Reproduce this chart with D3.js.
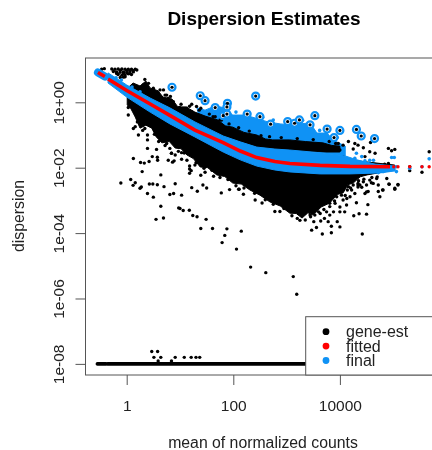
<!DOCTYPE html>
<html lang="en">
<head>
<meta charset="UTF-8">
<title>Dispersion Estimates</title>
<script src="https://d3js.org/d3.v7.min.js"></script>
<style>
    html, body { margin: 0; background: #fff; overflow: hidden; }
    svg { display: block; font-family: "Liberation Sans", Arial, sans-serif; }
    text { fill: #222; }
    .axis path { display: none; }
    .axis line { stroke: #555; }
    .axis text { font-size: 15.5px; fill: #222; }
</style>
</head>
<body>
<div id="chart"></div>
<script>
// all values are [log10 mean, log10 dispersion]
const xTicks = [1, 100, 10000];
const xTickLabels = ["1", "100", "10000"];
const yTicks = [1, 1e-2, 1e-4, 1e-6, 1e-8];
const yTickLabels = ["1e+00", "1e-02", "1e-04", "1e-06", "1e-08"];
const legendLabels = ["gene-est", "fitted", "final"];
const legendColors = ["#000", "#ff0000", "#0f92f5"];

// dense gene-est cloud under the fitted line
const cloudOutline = [[0.01,0.31],[0.01,-0.08],[0.08,-0.2],[0.16,-0.45],[0.25,-0.79],[0.36,-0.7],[0.47,-0.79],[0.55,-1.05],[0.66,-1.24],[0.8,-1.2],[0.91,-1.4],[1.02,-1.42],[1.13,-1.61],[1.25,-1.72],[1.38,-1.98],[1.52,-2.0],[1.69,-2.22],[1.84,-2.27],[1.99,-2.47],[2.15,-2.5],[2.31,-2.68],[2.5,-2.84],[2.69,-3.05],[2.88,-3.17],[3.06,-3.39],[3.18,-3.4],[3.29,-3.54],[3.4,-3.38],[3.5,-3.45],[3.65,-3.2],[3.81,-3.08],[3.95,-2.82],[4.06,-2.77],[4.15,-2.52],[4.25,-2.47],[4.38,-2.28],[4.51,-2.22],[5.03,-2.07],[5.03,-1.92],[2.5,-1.46],[1.28,-0.6]];
const cloudEdge = [[0.2,-0.6],[0.3,-0.86],[0.52,-0.98],[0.6,-1.2],[0.72,-1.32],[0.97,-1.5],[1.08,-1.55],[1.18,-1.95],[1.3,-1.85],[1.45,-2.02],[1.6,-2.08],[1.75,-2.3],[1.9,-2.36],[2.05,-2.55],[2.2,-2.62],[2.4,-2.78],[2.6,-2.98],[2.75,-3.12],[2.95,-3.25],[3.1,-3.47],[3.2,-3.55],[3.35,-3.6],[3.45,-3.5],[3.6,-3.35],[3.7,-3.28],[3.9,-3.02],[4.2,-2.62],[4.1,-2.85],[4.35,-2.4],[4.45,-2.35],[4.6,-2.3],[4.7,-2.28]];

// final estimates: upper part above the black band, main part around the fit
const finalUpper = [[1.32,-0.17],[1.47,-0.24],[1.66,-0.11],[1.84,-0.17],[1.99,-0.39],[2.22,-0.39],[2.41,-0.48],[2.65,-0.6],[2.88,-0.66],[3.06,-0.69],[3.44,-0.63],[3.57,-0.94],[3.76,-0.94],[3.87,-1.15],[4.1,-1.34],[4.1,-1.64],[1.99,-1.15],[1.38,-0.69]];
const bandOutline = [[0.02,0.44],[0.12,0.59],[0.25,0.5],[0.36,0.65],[0.44,0.44],[0.59,0.35],[0.68,0.16],[0.85,0.1],[0.96,-0.14],[1.11,-0.14],[1.28,-0.3],[1.47,-0.42],[1.71,-0.54],[1.85,-0.72],[1.99,-0.76],[2.2,-0.92],[2.44,-1.0],[2.6,-1.12],[2.74,-1.15],[3.06,-1.15],[3.35,-1.2],[3.68,-1.24],[3.85,-1.32],[4.0,-1.34],[4.0,-1.52],[3.68,-1.52],[3.06,-1.49],[2.44,-1.4],[1.99,-1.18],[1.28,-0.69],[0.44,0.07],[0.02,0.38]];
const bandEdge = [[0.72,0.22],[0.82,0.18],[1.02,-0.06],[1.18,-0.12],[1.36,-0.24],[1.55,-0.36],[1.62,-0.44],[1.78,-0.54],[1.92,-0.66],[2.1,-0.78],[2.3,-0.88],[2.52,-1.02],[2.68,-1.05],[2.9,-1.08],[3.2,-1.11],[3.5,-1.14],[3.8,-1.2],[3.92,-1.26]];
const finalMain = [[-0.35,0.59],[0,0.16],[0.44,-0.3],[0.81,-0.66],[1.28,-1.06],[1.81,-1.52],[2.13,-1.76],[2.44,-1.95],[2.78,-2.07],[3.06,-2.13],[3.63,-2.19],[4.19,-2.19],[4.75,-2.16],[5.03,-2.1],[5.03,-1.95],[4.66,-1.89],[4.32,-1.76],[4.1,-1.64],[3.68,-1.55],[3.06,-1.46],[2.78,-1.43],[2.44,-1.37],[2.13,-1.21],[1.81,-1.03],[1.28,-0.6],[0.81,-0.17],[0.44,0.13],[0,0.53],[-0.35,0.9]];
const finalDots = [[4.31,-1.56],[4.28,-1.71],[4.34,-1.82],[4.41,-1.66],[4.47,-1.79],[4.56,-1.77],[4.63,-1.77],[4.97,-1.69],[5.02,-1.69],[5.06,-1.97],[5.06,-2.12],[5.31,-2.02],[5.54,-1.97],[5.675,-1.73],[4.81,-2.12],[4.72,-2.15],[-0.2,0.75],[-0.1,0.68],[0.1,0.47],[0.25,0.32],[1.75,-0.28],[2.05,-0.3],[2.3,-0.34],[2.55,-0.46],[2.75,-0.54],[3.2,-0.58],[3.3,-0.55],[3.62,-0.86],[3.95,-1.08]];

const fittedHead = [[-0.54,0.91],[-0.41,0.79]];
const fittedMain = [[-0.35,0.71],[0,0.36],[0.44,-0.05],[0.81,-0.4],[1.28,-0.85],[1.81,-1.23],[2.13,-1.49],[2.44,-1.69],[2.78,-1.81],[3.06,-1.87],[3.63,-1.93],[4.19,-1.96],[4.94,-1.97]];
const fittedDots = [[5.01,-1.97],[5.09,-1.97],[5.31,-1.97],[5.54,-1.97],[5.675,-1.97]];

// outliers, drawn with a ring
const outliers = [[0.85,0.46],[1.38,0.2],[1.47,0.05],[1.66,-0.16],[1.81,-0.41],[1.89,-0.03],[1.88,-0.14],[1.88,-0.36],[2.26,-0.36],[2.42,0.19],[2.5,-0.44],[2.7,-0.67],[3.02,-0.59],[3.15,-0.64],[3.24,-0.54],[3.53,-0.41],[3.44,-0.69],[3.76,-0.82],[3.89,-1.08],[4.0,-0.86],[4.31,-0.83],[4.4,-1.03],[4.65,-1.11]];

// single gene-est points
const topRow = [[-0.47,1.01],[-0.42,1.03],[-0.28,1.02],[-0.22,1.01],[-0.16,1.02],[-0.09,1.02],[-0.03,1.01],[0.03,1.01],[0.09,1.01],[0.16,1.01],[0.19,0.99],[-0.25,0.94],[-0.19,0.93],[-0.125,0.92],[-0.06,0.93],[0,0.91],[0.06,0.94],[0.125,0.93],[-0.16,0.85],[-0.09,0.83],[-0.03,0.84],[0.03,0.87],[-0.06,0.77],[0.09,0.85],[-0.12,0.98],[0,0.97],[0.12,0.97],[-0.19,0.88],[0.06,0.88],[-0.03,0.78],[-0.12,0.76],[-0.06,0.88]];
const upperScatter = [[0.34,0.7],[0.31,0.53],[0.41,0.58],[0.5,0.43],[0.625,0.38],[0.69,0.38],[0.56,0.28],[0.75,0.22],[0.78,0.12],[0.875,0.02],[0.99,-0.16],[1.125,-0.18],[1.22,-0.29],[1.31,-0.13],[1.39,-0.18],[1.22,-0.06],[1.66,-0.44],[1.75,-0.54],[3.97,-1.26],[4.06,-1.31],[4.16,-1.2],[4.0,-1.46],[4.28,-1.26],[4.34,-1.31],[4.44,-1.39],[4.25,-1.43],[4.575,-1.23],[4.47,-1.66],[4.56,-1.51],[4.66,-1.56],[4.91,-1.41],[4.97,-1.48],[5.03,-1.44],[4.06,-1.66],[4.41,-1.87],[4.53,-1.87],[5.675,-1.51]];
const rightScatter = [[4.84,-1.89],[4.91,-1.87],[4.66,-2.07],[4.75,-2.09],[4.59,-2.46],[4.92,-2.5],[4.8,-2.68],[5.03,-2.63],[5.09,-2.51],[4.72,-2.53],[4.75,-2.89],[4.5,-2.74],[4.34,-2.53],[4.41,-2.6],[5.31,-1.97],[5.31,-2.09],[5.54,-2.14],[4.625,-2.48],[4.72,-2.73],[4.81,-2.68],[4.925,-2.51],[5.03,-2.66],[5.09,-2.53],[4.53,-2.73],[4.31,-3.07],[4.125,-3.14],[4.34,-2.59],[4.375,-2.53],[4.19,-2.89],[4.06,-2.99],[4.0,-3.2],[3.94,-2.89],[3.81,-3.09],[4.28,-2.79],[4.47,-2.79],[4.14,-2.68],[3.25,-3.61],[3.47,-3.91],[3.67,-4.03],[3.84,-3.99],[4.42,-4.03],[4.5,-3.42],[4.525,-3.13],[4.36,-3.41],[4.26,-3.47],[4.0,-3.81],[3.95,-3.65],[3.81,-3.45],[4.09,-3.35],[3.56,-3.83],[3.51,-3.65],[3.64,-3.63],[3.71,-3.55],[3.78,-3.65],[3.84,-3.79],[2.78,-3.34],[2.875,-3.34],[2.54,-3.08],[2.41,-2.99],[2.19,-2.81],[2.11,-2.66],[3.88,-2.79],[3.97,-2.68],[4.06,-2.68],[4.16,-2.58],[4.25,-2.53],[4.34,-2.48],[4.44,-2.43],[4.56,-2.38],[4.22,-2.68],[4.13,-2.94],[4.03,-2.84],[3.81,-3.19],[3.91,-3.09],[4.0,-3.35],[3.88,-3.35],[3.75,-3.35],[3.63,-3.4],[3.53,-3.45],[3.44,-3.45],[3.34,-3.4],[4.5,-2.53],[4.69,-2.33],[4.88,-2.33]];
const lowerScatter = [[0.03,-0.16],[0.125,-0.22],[0.03,-0.39],[0.16,-0.745],[0.125,-0.8],[0.22,-1.0],[0.39,-1.0],[0.39,-1.15],[0.39,-1.41],[0.56,-1.44],[0.34,-0.8],[0.75,-1.26],[0.84,-1.56],[0.81,-1.41],[0.125,-1.72],[0.26,-1.84],[0.33,-1.86],[0.42,-1.81],[0.48,-1.66],[0.575,-1.68],[0.58,-1.77],[0.78,-1.77],[0.86,-1.83],[0.89,-1.79],[0.84,-1.56],[0.91,-1.61],[1.03,-1.54],[1.03,-1.74],[1.13,-1.77],[1.18,-2.04],[1.18,-2.17],[1.21,-2.09],[1.28,-1.92],[1.39,-2.23],[1.47,-2.14],[1.63,-2.26],[0.29,-2.12],[0.64,-2.22],[0.075,-2.36],[0.16,-2.46],[0.12,-2.54],[-0.11,-2.47],[0.275,-2.59],[0.25,-2.63],[0.425,-2.5],[0.49,-2.5],[0.575,-2.52],[0.7,-2.58],[0.91,-2.49],[0.81,-2.82],[0.88,-2.79],[1.03,-2.84],[0.39,-2.79],[0.5,-2.9],[1.22,-2.61],[1.325,-2.72],[1.43,-2.53],[1.5,-2.62],[1.775,-2.77],[1.93,-2.67],[2.1,-2.66],[0.64,-3.18],[0.55,-3.58],[0.69,-3.54],[0.975,-3.23],[1.0,-3.25],[1.06,-3.31],[1.175,-3.3],[1.24,-3.46],[1.32,-3.5],[1.49,-3.58],[1.39,-3.86],[1.61,-3.86],[1.88,-3.87],[1.84,-4.07],[1.79,-4.29],[2.06,-4.49],[2.15,-3.94],[2.325,-5.04],[2.61,-5.21],[3.125,-5.33],[3.19,-5.87]];
const floorScatter = [[0.47,-7.62],[0.58,-7.62],[0.51,-7.8],[0.64,-7.8],[0.91,-7.8],[1.08,-7.8],[1.21,-7.8],[1.3,-7.8],[1.37,-7.8],[0.59,-7.91],[0.84,-7.91]];
// genes at the floor form a solid row
const floorRows = [[[-0.55,-8],[-0.39,-8]], [[-0.36,-8],[3.9,-8]]];

const width = 432, height = 450;
const box = { left: 85.5, right: 442.5, top: 58, bottom: 375 };

const x = d3.scaleLog().domain([10 ** -0.773, 10 ** 5.925]).range([box.left, box.right]);
const y = d3.scaleLog().domain([10 ** -8.34, 10 ** 1.355]).range([box.bottom, box.top]);
const px = d => x(10 ** d[0]);
const py = d => y(10 ** d[1]);

const svg = d3.select("#chart").append("svg")
    .attr("width", width)
    .attr("height", height)
    .style("filter", "blur(0.4px)");

const line = d3.line().x(px).y(py);
const closed = d3.line().x(px).y(py).curve(d3.curveLinearClosed);

function addPolygon(points, color) {
    svg.append("path").attr("d", closed(points)).attr("fill", color).attr("stroke", color).attr("stroke-width", 1);
}

function addDots(points, r, color) {
    svg.append("g").selectAll("circle").data(points).join("circle")
        .attr("cx", px)
        .attr("cy", py)
        .attr("r", r)
        .attr("fill", color);
}

// gene-est first, final and fit go on top
floorRows.forEach(row => {
    svg.append("path").attr("d", line(row)).attr("stroke", "#000").attr("stroke-width", 3.6)
        .attr("stroke-linecap", "round").attr("fill", "none");
});
addDots(floorScatter, 1.7, "#000");
addDots(lowerScatter, 1.7, "#000");
addDots(rightScatter, 1.7, "#000");
addPolygon(cloudOutline, "#000");
addDots(cloudEdge, 1.7, "#000");
addPolygon(finalUpper, legendColors[2]);
addPolygon(bandOutline, "#000");
addDots(bandEdge, 1.7, "#000");
addDots(topRow, 1.7, "#000");
addDots(upperScatter, 1.7, "#000");
addPolygon(finalMain, legendColors[2]);
svg.append("path").attr("d", line(fittedHead)).attr("stroke", legendColors[2]).attr("stroke-width", 8)
    .attr("stroke-linecap", "round").attr("fill", "none");
addDots(finalDots, 1.8, legendColors[2]);

// fitted line
[fittedHead, fittedMain].forEach(seg => {
    svg.append("path").attr("d", line(seg)).attr("stroke", legendColors[1]).attr("stroke-width", 3.6)
        .attr("fill", "none");
});
addDots(fittedDots, 1.7, legendColors[1]);

// outlier rings
svg.append("g").selectAll("circle").data(outliers).join("circle")
    .attr("cx", px)
    .attr("cy", py)
    .attr("r", 3.5)
    .attr("fill", "#fff")
    .attr("stroke", legendColors[2])
    .attr("stroke-width", 2.2);
addDots(outliers, 1.6, "#000");

// plot box
svg.append("rect")
    .attr("x", box.left).attr("y", box.top)
    .attr("width", box.right - box.left).attr("height", box.bottom - box.top)
    .attr("fill", "none").attr("stroke", "#555");

// axes
const xAxis = d3.axisBottom(x).tickValues(xTicks).tickSize(10).tickPadding(15)
    .tickFormat((d, i) => xTickLabels[i]);
svg.append("g").attr("class", "axis").attr("transform", `translate(0,${box.bottom})`).call(xAxis);

const yAxis = d3.axisLeft(y).tickValues(yTicks).tickSize(10).tickFormat((d, i) => yTickLabels[i]);
const yG = svg.append("g").attr("class", "axis").attr("transform", `translate(${box.left},0)`).call(yAxis);
yG.selectAll("text")
    .attr("text-anchor", "middle")
    .attr("dy", null)
    .attr("x", null)
    .attr("transform", "translate(-22,0) rotate(-90)");

// titles
svg.append("text").attr("x", 264).attr("y", 25).attr("text-anchor", "middle")
    .style("font-size", "19px").style("font-weight", "bold").style("fill", "#000").text("Dispersion Estimates");
svg.append("text").attr("x", 263).attr("y", 448).attr("text-anchor", "middle")
    .style("font-size", "15.8px").text("mean of normalized counts");
svg.append("text").attr("transform", "translate(24,216) rotate(-90)").attr("text-anchor", "middle")
    .style("font-size", "15.8px").text("dispersion");

// legend
svg.append("rect")
    .attr("x", 305.7).attr("y", 316.7)
    .attr("width", 140).attr("height", box.bottom - 316.7)
    .attr("fill", "#fff").attr("stroke", "#555");
const legend = svg.append("g").selectAll("g").data(legendLabels).join("g")
    .attr("transform", (d, i) => `translate(326,${331.7 + i * 14.4})`);
legend.append("circle").attr("r", 3.4).attr("fill", (d, i) => legendColors[i]);
legend.append("text").attr("x", 20).attr("y", 5.5).style("font-size", "16px").text(d => d);
</script>
</body>
</html>
